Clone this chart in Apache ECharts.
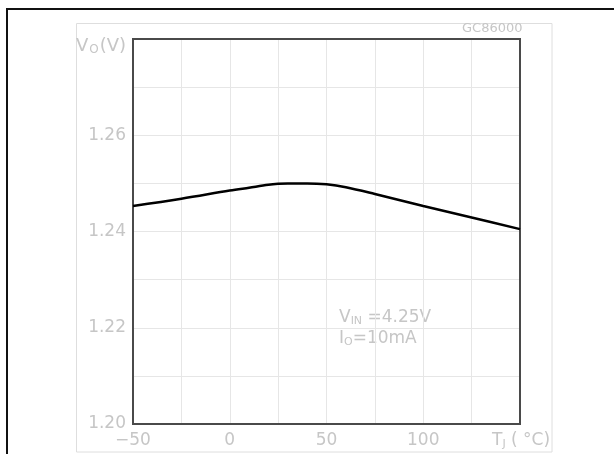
<!DOCTYPE html>
<html>
<head>
<meta charset="utf-8">
<script src="https://cdn.jsdelivr.net/npm/echarts@6/dist/echarts.min.js"></script>
<style>
  html, body { margin: 0; padding: 0; background: #fff; }
  #chart { width: 614px; height: 454px; }
</style>
</head>
<body>
<div id="chart"></div>
<script>
// Junction temperature (°C) and output voltage (V)
const tempC = [-50, -25, 0, 10, 20, 25, 30, 35, 40, 50, 60, 75, 100, 125, 150];
const voutV = [1.2453, 1.2468, 1.2485, 1.2491, 1.2497, 1.2499, 1.2500, 1.2500, 1.2500, 1.2498, 1.2492, 1.2478, 1.2453, 1.2429, 1.2405];

const xTickLabels = [-50, 0, 50, 100];
const yTickLabels = [1.20, 1.22, 1.24, 1.26];

const labelGray = '#c6c6c6';
const fontFam = 'DejaVu Sans, Liberation Sans, sans-serif';

const chart = echarts.init(document.getElementById('chart'), null, { renderer: 'canvas' });

chart.setOption({
  animation: false,
  backgroundColor: '#fff',
  grid: {
    left: 133, top: 39, width: 387, height: 385,
    show: true, borderColor: '#4a4a4a', borderWidth: 2, z: 3
  },
  xAxis: {
    type: 'value', min: -50, max: 150, interval: 25,
    axisLine: { show: false }, axisTick: { show: false },
    splitLine: { show: true, lineStyle: { color: '#e6e6e6', width: 1 } },
    axisLabel: {
      margin: 8, color: labelGray, fontSize: 17, fontFamily: fontFam,
      formatter: v => xTickLabels.includes(Math.round(v)) ? String(Math.round(v)).replace('-', '\u2212') : ''
    }
  },
  yAxis: {
    type: 'value', min: 1.20, max: 1.28, interval: 0.01,
    axisLine: { show: false }, axisTick: { show: false },
    splitLine: { show: true, lineStyle: { color: '#e6e6e6', width: 1 } },
    axisLabel: {
      margin: 7, color: labelGray, fontSize: 17, fontFamily: fontFam,
      formatter: v => {
        const r = Math.round(v * 100) / 100;
        return yTickLabels.some(t => Math.abs(t - r) < 1e-6) ? r.toFixed(2) : '';
      }
    }
  },
  series: [{
    type: 'line',
    data: tempC.map((t, i) => [t, voutV[i]]),
    smooth: 0.35,
    showSymbol: false,
    lineStyle: { color: '#000', width: 2.5 },
    z: 4
  }],
  graphic: [
    { type: 'rect', shape: { x: 7, y: 9, width: 700, height: 500 },
      style: { fill: 'none', stroke: '#111', lineWidth: 2 }, z: 0 },
    { type: 'rect', shape: { x: 76.5, y: 23.5, width: 475.5, height: 428.5 },
      style: { fill: 'none', stroke: '#dedede', lineWidth: 1 }, z: 0 },
    { type: 'text', left: 462, top: 22,
      style: { text: 'GC86000', fill: labelGray, font: '13px ' + fontFam } },
    { type: 'text', left: 76, top: 37,
      style: {
        text: '{a|V}{s|O}{a|(V)}',
        rich: {
          a: { fontSize: 18, fill: labelGray, fontFamily: fontFam },
          s: { fontSize: 12, fill: labelGray, fontFamily: fontFam, padding: [8, 1, 0, 1] }
        }
      } },
    { type: 'text', left: 492, top: 432,
      style: {
        text: '{a|T}{s|J}{a| ( °C)}',
        rich: {
          a: { fontSize: 17, fill: labelGray, fontFamily: fontFam },
          s: { fontSize: 11, fill: labelGray, fontFamily: fontFam, padding: [8, 0, 0, 0] }
        }
      } },
    { type: 'text', left: 339, top: 308,
      style: {
        text: '{a|V}{s|IN}{a| =4.25V}\n{a|I}{s|O}{a|=10mA}',
        rich: {
          a: { fontSize: 17, lineHeight: 21, fill: labelGray, fontFamily: fontFam },
          s: { fontSize: 11, lineHeight: 21, fill: labelGray, fontFamily: fontFam, padding: [8, 0, 0, 0] }
        }
      } }
  ]
});
</script>
</body>
</html>
